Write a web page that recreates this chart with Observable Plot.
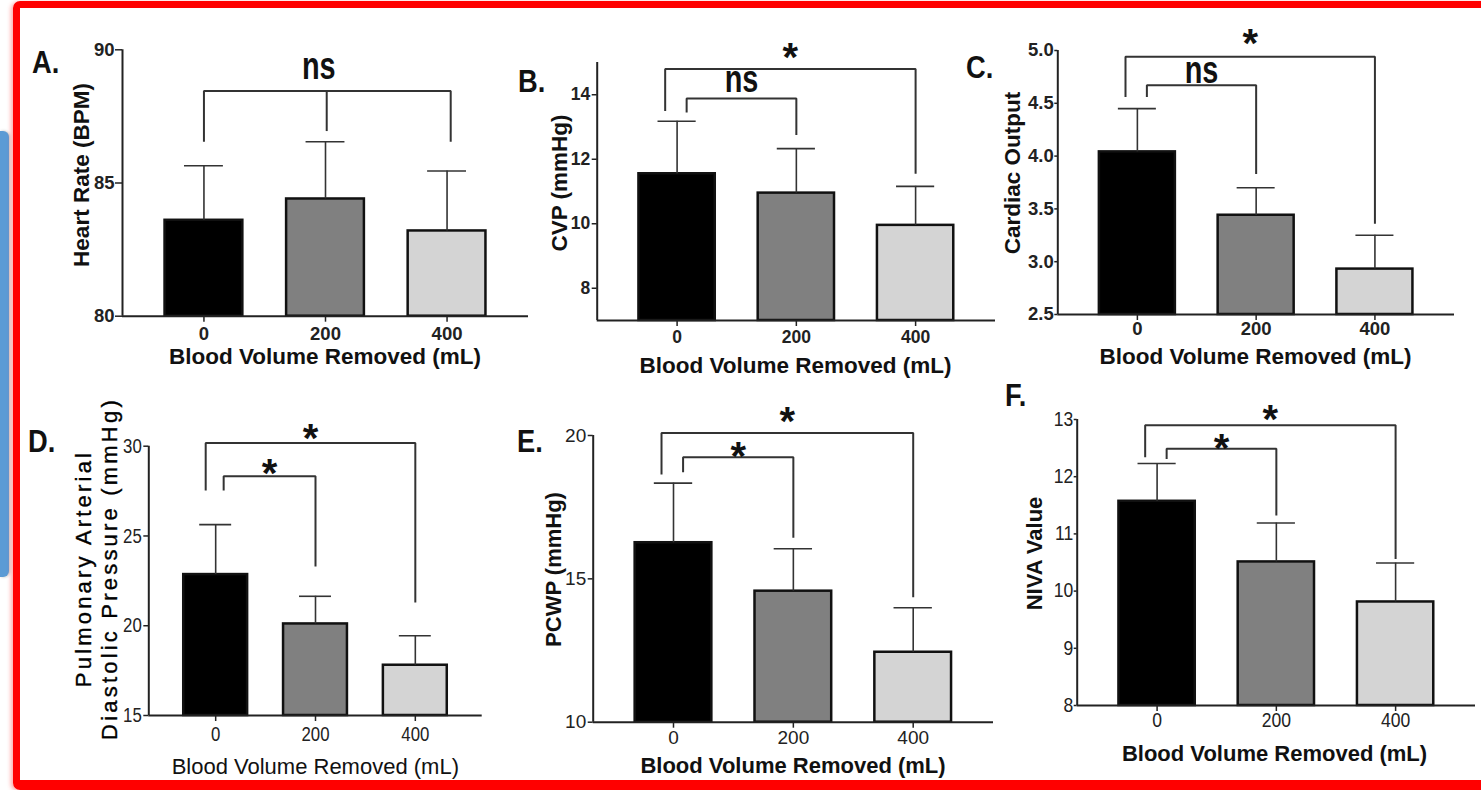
<!DOCTYPE html>
<html><head><meta charset="utf-8">
<script src="https://cdn.jsdelivr.net/npm/d3@7"></script>
<script src="https://cdn.jsdelivr.net/npm/@observablehq/plot@0.6"></script>
<style>
html,body{margin:0;padding:0;background:#fff;width:1481px;height:790px;overflow:hidden;position:relative;font-family:'Liberation Sans',Arial,sans-serif;}
#frame{position:absolute;left:13px;top:1px;width:1520px;height:789px;border:7px solid #ff0000;border-bottom-width:10px;border-radius:7px;box-sizing:border-box;box-shadow:-2px 1px 4px rgba(255,60,60,0.45);}
#blue{position:absolute;left:0;top:131px;width:9px;height:446px;background:#5b9bd5;border-radius:0 6px 6px 0;box-shadow:1px 0 3px rgba(0,0,0,0.25);}
.panel{position:absolute;}
#letters{position:absolute;left:0;top:0;}
</style></head>
<body>
<div id="blue"></div>
<div id="frame"></div>
<div id="root"></div>
<svg id="letters" width="1481" height="790"></svg>
<script>
// ---------------- data ----------------
const categories = ["0", "200", "400"];
const xTitle = "Blood Volume Removed (mL)";

const heartRateMean = [83.6, 84.4, 83.2];
const heartRateSem  = [2.05, 2.15, 2.25];
const hrTicks = [80, 85, 90];
const hrRange = [80, 90];
const hrBrackets = [{from: 0, to: 2, top: 88.45, legs: [86.55, 86.95, 86.55], label: "ns", labelY: 89.3}];

const cvpMean = [11.55, 10.95, 9.95];
const cvpSem  = [1.63, 1.38, 1.21];
const cvpTicks = [8, 10, 12, 14];
const cvpRange = [7, 15];
const cvpBrackets = [
  {from: 0, to: 2, top: 14.8, legs: [13.5, 11.55], label: "*", labelY: 15.45},
  {from: 0, to: 1, top: 13.88, legs: [13.45, 12.75], label: "ns", labelY: 14.4}
];

const coMean = [4.04, 3.44, 2.93];
const coSem  = [0.41, 0.26, 0.32];
const coTicks = [2.5, 3.0, 3.5, 4.0, 4.5, 5.0];
const coRange = [2.5, 5.0];
const coBrackets = [
  {from: 0, to: 2, top: 4.94, legs: [4.56, 3.36], label: "*", labelY: 5.15},
  {from: 0, to: 1, top: 4.67, legs: [4.56, 3.83], label: "ns", labelY: 4.79}
];

const padpMean = [22.85, 20.1, 17.8];
const padpSem  = [2.78, 1.54, 1.64];
const padpTicks = [15, 20, 25, 30];
const padpRange = [15, 30];
const padpBrackets = [
  {from: 0, to: 2, top: 30.18, legs: [27.53, 21.3], label: "*", labelY: 30.96},
  {from: 0, to: 1, top: 28.32, legs: [27.53, 23.3], label: "*", labelY: 29.0}
];

const pcwpMean = [16.26, 14.57, 12.44];
const pcwpSem  = [2.08, 1.48, 1.55];
const pcwpTicks = [10, 15, 20];
const pcwpRange = [10, 20];
const pcwpBrackets = [
  {from: 0, to: 2, top: 20.09, legs: [18.64, 14.36], label: "*", labelY: 20.81},
  {from: 0, to: 1, top: 19.24, legs: [18.72, 16.43], label: "*", labelY: 19.59}
];

const nivaMean = [11.57, 10.51, 9.81];
const nivaSem  = [0.66, 0.68, 0.68];
const nivaTicks = [8, 9, 10, 11, 12, 13];
const nivaRange = [8, 13];
const nivaBrackets = [
  {from: 0, to: 2, top: 12.90, legs: [12.34, 10.56], label: "*", labelY: 13.16},
  {from: 0, to: 1, top: 12.49, legs: [12.31, 11.32], label: "*", labelY: 12.66}
];

const panelLetters = ["A.", "B.", "C.", "D.", "E.", "F."];

// ---------------- styling / layout ----------------
const SANS = "'Liberation Sans', Arial, sans-serif";
const fills = ["#000000", "#808080", "#d4d4d4"];
const XDOM = [-0.67, 2.67];
const HALF = 0.32, CAP = 0.16;
const INK = "#222";

const panels = [
  {mean: heartRateMean, sem: heartRateSem, ticks: hrTicks, range: hrRange, brackets: hrBrackets, yTitle: "Heart Rate (BPM)",
   area: [122, 528, 49.3, 315.7], box: {L: 20, T: 8, W: 525, H: 372}, yT: [80, 174.5], xT: [324.5, 356],
   tf: {size: 18.5, weight: "bold"}, ySize: 7, yPad: 1, xPad: 4.5, title: {size: 22.5, weight: "bold"}},
  {mean: cvpMean, sem: cvpSem, ticks: cvpTicks, range: cvpRange, brackets: cvpBrackets, yTitle: "CVP (mmHg)",
   area: [596.7, 995, 62, 320], box: {L: 490, T: 8, W: 515, H: 372}, yT: [558, 182.5], xT: [795, 365],
   tf: {size: 17.5, weight: "bold"}, ySize: 5, yPad: 2, xPad: 4, title: {size: 22.5, weight: "bold"}},
  {mean: coMean, sem: coSem, ticks: coTicks, range: coRange, brackets: coBrackets, yTitle: "Cardiac Output", fmt: d3.format(".1f"),
   area: [1057.3, 1454, 50, 314], box: {L: 990, T: 8, W: 485, H: 372}, yT: [1010.5, 172.5], xT: [1255, 356],
   tf: {size: 18.5, weight: "bold"}, ySize: 3, yPad: 1, xPad: 1.5, title: {size: 22.5, weight: "bold"}},
  {mean: padpMean, sem: padpSem, ticks: padpTicks, range: padpRange, brackets: padpBrackets, yTitle: "Pulmonary Arterial\nDiastolic Pressure (mmHg)",
   area: [148.3, 481.7, 445.7, 715], box: {L: 20, T: 385, W: 475, H: 395}, yT: [95, 568], xT: [314.8, 766.7],
   tf: {size: 21, weight: "normal", narrow: 0.8}, ySize: 5, yPad: 2, xPad: 5, title: {size: 22, weight: "normal"}, spaced: true},
  {mean: pcwpMean, sem: pcwpSem, ticks: pcwpTicks, range: pcwpRange, brackets: pcwpBrackets, yTitle: "PCWP (mmHg)",
   area: [592.7, 993, 435, 721.7], box: {L: 490, T: 385, W: 515, H: 395}, yT: [552.5, 569], xT: [792.5, 765],
   tf: {size: 19, weight: "normal"}, ySize: 5, yPad: 2, xPad: 2.5, title: {size: 22, weight: "bold"}},
  {mean: nivaMean, sem: nivaSem, ticks: nivaTicks, range: nivaRange, brackets: nivaBrackets, yTitle: "NIVA Value",
   area: [1076.7, 1475, 419, 705], box: {L: 990, T: 385, W: 491, H: 395}, yT: [1033.5, 553], xT: [1274, 753.3],
   tf: {size: 19.5, weight: "normal", narrow: 0.9}, ySize: 3, yPad: 1, xPad: 2, title: {size: 22, weight: "bold"}}
];
const letterPos = [[32, 73], [518, 92], [966, 78], [28, 452], [517, 452], [1005, 406]];

function condense(svg, test, sx) {
  svg.querySelectorAll("text").forEach(t => {
    if (test(t.textContent)) {
      const tr = t.getAttribute("transform");
      if (tr) t.setAttribute("transform", tr + ` scale(${sx},1)`);
      else {
        const x = +t.getAttribute("x") || 0, y = +t.getAttribute("y") || 0;
        t.removeAttribute("x"); t.removeAttribute("y");
        t.setAttribute("transform", `translate(${x},${y}) scale(${sx},1)`);
      }
    }
  });
}

function panel(p) {
  const [x0, x1, y0, y1] = p.area;
  const {L, T, W, H} = p.box;
  const [ymin, ymax] = p.range;
  const rows = categories.map((c, i) => ({i, v: p.mean[i], e: p.sem[i]}));
  const paths = [];
  const labels = [];
  p.brackets.forEach((b, k) => {
    const three = b.legs.length === 3;
    const sh = three ? 0 : (b.to - b.from === 2 ? -0.1 : 0.08);
    const xl = b.from + sh;
    const xr = b.to + (three ? 0.03 : 0);
    paths.push({id: k + "a", x: xl, y: b.legs[0]}, {id: k + "a", x: xl, y: b.top},
               {id: k + "a", x: xr, y: b.top}, {id: k + "a", x: xr, y: b.legs[b.legs.length - 1]});
    if (three) {
      const xm = (b.from + b.to) / 2 + 0.01;
      paths.push({id: k + "m", x: xm, y: b.top}, {id: k + "m", x: xm, y: b.legs[1]});
    }
    labels.push({x: (xl + xr) / 2 - (three ? 0.07 : 0), y: b.labelY, label: b.label});
  });
  const fmt = p.fmt || (d => String(d));
  const tickLabels = new Set([...p.ticks.map(fmt), ...categories]);
  const svg = Plot.plot({
    width: W, height: H,
    marginLeft: x0 - L, marginRight: L + W - x1, marginTop: y0 - T, marginBottom: T + H - y1,
    x: {type: "linear", domain: XDOM, axis: null},
    y: {domain: [ymin, ymax], axis: null},
    style: {background: "transparent", overflow: "visible", fontFamily: SANS},
    marks: [
      Plot.rectY(rows, {x1: d => d.i - HALF, x2: d => d.i + HALF, y1: ymin, y2: "v",
        fill: d => fills[d.i], stroke: "#111", strokeWidth: 2.5}),
      Plot.ruleX(rows, {x: "i", y1: "v", y2: d => d.v + d.e, stroke: "#333", strokeWidth: 1.6}),
      Plot.ruleY(rows, {y: d => d.v + d.e, x1: d => d.i - CAP, x2: d => d.i + CAP, stroke: "#333", strokeWidth: 1.6}),
      Plot.ruleY([ymin], {stroke: INK, strokeWidth: 2}),
      Plot.ruleX([XDOM[0]], {y1: ymin, y2: ymax, stroke: INK, strokeWidth: 2}),
      Plot.axisY(p.ticks, {tickSize: p.ySize, tickPadding: p.yPad, tickFormat: fmt, label: null,
        fontSize: p.tf.size, fontWeight: p.tf.weight, fontFamily: SANS, color: INK, strokeWidth: 1.5}),
      Plot.axisX([0, 1, 2], {tickSize: 6, tickPadding: p.xPad, tickFormat: i => categories[i], label: null,
        fontSize: p.tf.size, fontWeight: p.tf.weight, fontFamily: SANS, color: INK, strokeWidth: 1.5}),
      Plot.line(paths, {x: "x", y: "y", z: "id", stroke: "#333", strokeWidth: 2,
        strokeLinejoin: "miter", strokeLinecap: "butt"}),
      Plot.text(labels.filter(d => d.label === "*"), {x: "x", y: "y", text: "label", fontSize: 40, fontWeight: "bold",
        fontFamily: SANS, fill: "#111", dy: 10}),
      Plot.text(labels.filter(d => d.label === "ns"), {x: "x", y: "y", text: "label", fontSize: 38, fontWeight: "bold",
        fontFamily: SANS, fill: "#111", dy: -2}),
      Plot.text([p.yTitle], {frameAnchor: "left", rotate: -90, textAnchor: "middle", lineAnchor: "middle",
        dx: p.yT[0] - x0, dy: p.yT[1] - (y0 + y1) / 2, lineHeight: 1.2,
        fontSize: p.spaced ? 22 : p.title.size, fontWeight: p.title.weight, fontFamily: SANS, fill: p.spaced ? "#000" : "#111"}),
      Plot.text([xTitle], {frameAnchor: "bottom", textAnchor: "middle", lineAnchor: "middle",
        dx: p.xT[0] - (x0 + x1) / 2, dy: p.xT[1] - y1,
        fontSize: p.title.size, fontWeight: p.title.weight, fontFamily: SANS, fill: "#111"})
    ]
  });
  condense(svg, s => s === "ns", 0.76);
  if (p.tf.narrow) condense(svg, s => tickLabels.has(s), p.tf.narrow);
  if (p.spaced) {
    svg.querySelectorAll("text").forEach(t => {
      if (t.textContent.includes("Pulmonary")) {
        t.style.letterSpacing = "3.2px";
        t.style.stroke = "#000";
        t.style.strokeWidth = "0.35px";
      }
    });
  }
  const div = document.createElement("div");
  div.className = "panel";
  div.style.left = L + "px";
  div.style.top = T + "px";
  div.appendChild(svg);
  document.getElementById("root").appendChild(div);
}

panels.forEach(panel);

const letters = d3.select("#letters");
panelLetters.forEach((t, k) => {
  letters.append("text")
    .attr("transform", `translate(${letterPos[k][0]},${letterPos[k][1]}) scale(0.88,1)`)
    .attr("font-family", SANS).attr("font-weight", "bold").attr("font-size", 31)
    .attr("fill", "#111").text(t);
});
</script>
</body></html>
